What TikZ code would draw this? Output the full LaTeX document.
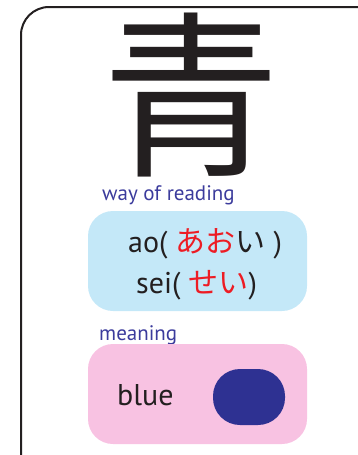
\documentclass[tikz,border=0pt]{standalone}
\usepackage{fontspec}
\setmainfont{PT Sans}
\newfontfamily\cjk{Noto Sans CJK JP}
\definecolor{framec}{HTML}{231F20}
\definecolor{lblue}{HTML}{C4E8F8}
\definecolor{lpink}{HTML}{F8C2E2}
\definecolor{navy}{HTML}{2E3192}
\definecolor{labc}{HTML}{3B3B9C}
\definecolor{kred}{HTML}{ED1C24}
\tikzset{
  panel/.style={rounded corners=25pt},
  lab/.style={text=labc, font=\fontsize{21pt}{21pt}\selectfont, anchor=base west, inner sep=0pt},
  body/.style={text=framec, font=\fontsize{30pt}{30pt}\selectfont, anchor=base west, inner sep=0pt},
}
\begin{document}
\begin{tikzpicture}[x=1pt,y=-1pt]
\useasboundingbox (0,0) rectangle (358,455);
\begin{scope}
\clip (0,0) rectangle (358,455);
\draw[framec, line width=2pt, rounded corners=28pt] (21,7) rectangle (385,482);
\end{scope}
\node[text=framec, font=\cjk\fontsize{178pt}{178pt}\selectfont, inner sep=0pt] (kanji) at (191,95) {青};
\node[lab] (reading) at (102,200) {way of reading};
\fill[lblue, panel] (88,211) rectangle (307,311);
\node[body] (ao) at (128,252) {ao( {\cjk\color{kred}あお}{\cjk い} )};
\node[body] (sei) at (136,293) {sei( {\cjk\color{kred}せい})};
\node[lab] (meaning) at (99,340) {meaning};
\fill[lpink, panel] (88,344) rectangle (307,444);
\node[body] (blue) at (117,405) {blue};
\fill[navy, rounded corners=27pt] (213,369) rectangle (285,425);
\end{tikzpicture}
\end{document}
